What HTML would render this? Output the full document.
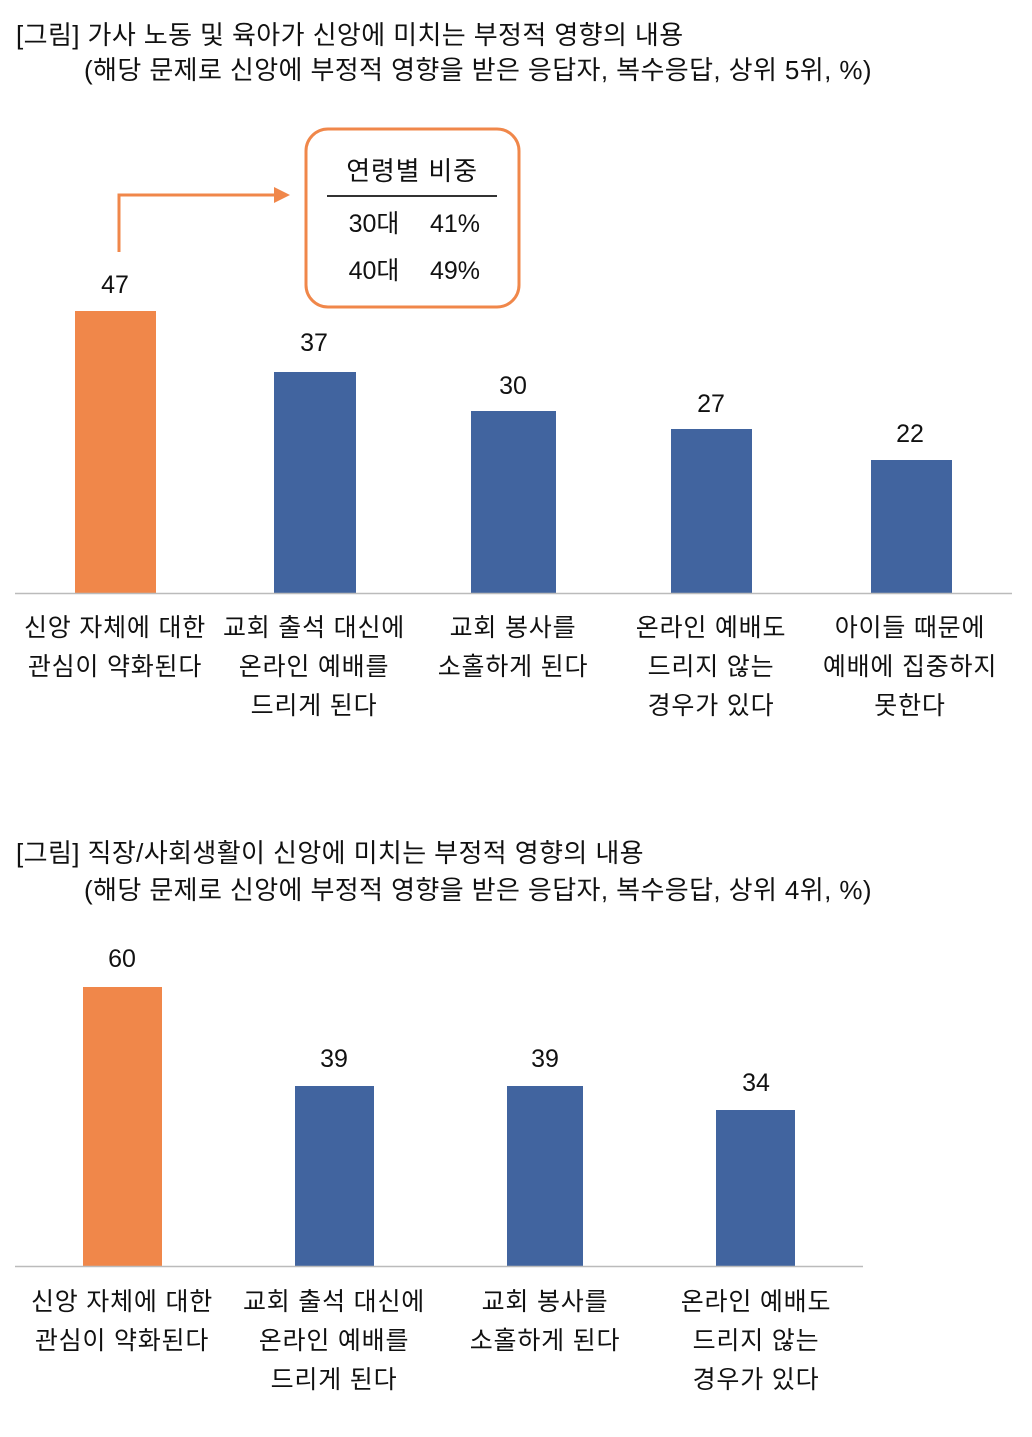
<!DOCTYPE html>
<html><head><meta charset="utf-8"><style>
html,body{margin:0;padding:0;background:#fff;}
svg text{font-family:"Liberation Sans","Noto Sans CJK KR",sans-serif;fill:#111;}
.t{letter-spacing:0.4px;}
.l text{letter-spacing:0.8px;}
</style></head><body>
<svg width="1032" height="1432" viewBox="0 0 1032 1432" xmlns="http://www.w3.org/2000/svg">
<text class="t" x="16" y="44" font-size="26">[그림] 가사 노동 및 육아가 신앙에 미치는 부정적 영향의 내용</text>
<text class="t" x="84" y="79" font-size="26">(해당 문제로 신앙에 부정적 영향을 받은 응답자, 복수응답, 상위 5위, %)</text>

<rect x="306" y="129" width="213" height="178" rx="22" fill="none" stroke="#F0874A" stroke-width="3"/>
<g class="l">
<text x="412" y="180" font-size="26" text-anchor="middle">연령별 비중</text>
</g>
<line x1="327" y1="196" x2="497" y2="196" stroke="#333" stroke-width="2"/>
<text x="374" y="232" font-size="25" text-anchor="middle">30대</text>
<text x="455" y="232" font-size="25" text-anchor="middle">41%</text>
<text x="374" y="279" font-size="25" text-anchor="middle">40대</text>
<text x="455" y="279" font-size="25" text-anchor="middle">49%</text>
<polyline points="119,252 119,195 276,195" fill="none" stroke="#F0874A" stroke-width="3"/>
<polygon points="290,195 274,187 274,203" fill="#F0874A"/>

<rect x="75" y="311" width="81" height="282" fill="#F0874A"/>
<rect x="274" y="372" width="82" height="221" fill="#41649F"/>
<rect x="471" y="411" width="85" height="182" fill="#41649F"/>
<rect x="671" y="429" width="81" height="164" fill="#41649F"/>
<rect x="871" y="460" width="81" height="133" fill="#41649F"/>
<line x1="15" y1="593.5" x2="1012" y2="593.5" stroke="#bbb" stroke-width="1.5"/>
<g font-size="25" text-anchor="middle">
<text x="115" y="293">47</text><text x="314" y="351">37</text><text x="513" y="394">30</text><text x="711" y="412">27</text><text x="910" y="442">22</text>
</g>
<g class="l" font-size="25" text-anchor="middle">
<text x="115" y="636">신앙 자체에 대한</text><text x="115" y="675">관심이 약화된다</text>
<text x="314" y="636">교회 출석 대신에</text><text x="314" y="675">온라인 예배를</text><text x="314" y="714">드리게 된다</text>
<text x="513" y="636">교회 봉사를</text><text x="513" y="675">소홀하게 된다</text>
<text x="711" y="636">온라인 예배도</text><text x="711" y="675">드리지 않는</text><text x="711" y="714">경우가 있다</text>
<text x="910" y="636">아이들 때문에</text><text x="910" y="675">예배에 집중하지</text><text x="910" y="714">못한다</text>
</g>

<text class="t" x="16" y="862" font-size="26">[그림] 직장/사회생활이 신앙에 미치는 부정적 영향의 내용</text>
<text class="t" x="84" y="899" font-size="26">(해당 문제로 신앙에 부정적 영향을 받은 응답자, 복수응답, 상위 4위, %)</text>

<rect x="83" y="987" width="79" height="279" fill="#F0874A"/>
<rect x="295" y="1086" width="79" height="180" fill="#41649F"/>
<rect x="507" y="1086" width="76" height="180" fill="#41649F"/>
<rect x="716" y="1110" width="79" height="156" fill="#41649F"/>
<line x1="15" y1="1266.5" x2="863" y2="1266.5" stroke="#bbb" stroke-width="1.5"/>
<g font-size="25" text-anchor="middle">
<text x="122" y="967">60</text><text x="334" y="1067">39</text><text x="545" y="1067">39</text><text x="756" y="1091">34</text>
</g>
<g class="l" font-size="25" text-anchor="middle">
<text x="122" y="1310">신앙 자체에 대한</text><text x="122" y="1349">관심이 약화된다</text>
<text x="334" y="1310">교회 출석 대신에</text><text x="334" y="1349">온라인 예배를</text><text x="334" y="1388">드리게 된다</text>
<text x="545" y="1310">교회 봉사를</text><text x="545" y="1349">소홀하게 된다</text>
<text x="756" y="1310">온라인 예배도</text><text x="756" y="1349">드리지 않는</text><text x="756" y="1388">경우가 있다</text>
</g>
</svg>
</body></html>
